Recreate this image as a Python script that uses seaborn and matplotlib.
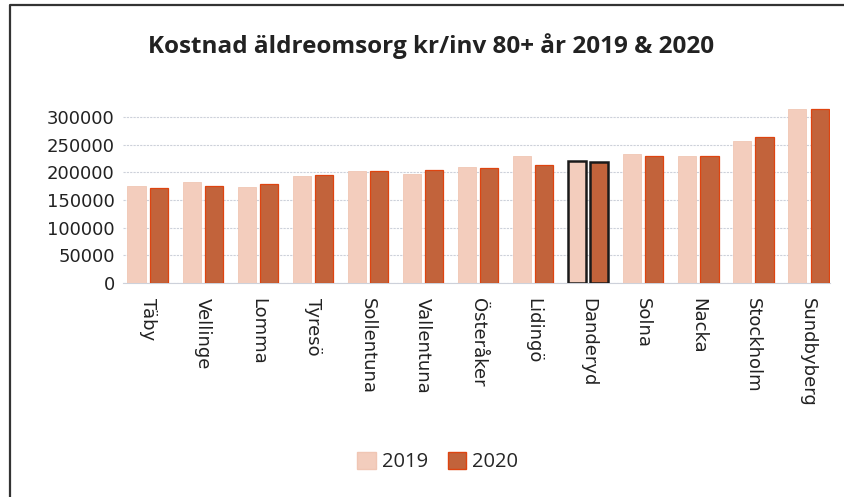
import pandas as pd
import numpy as np
import matplotlib.pyplot as plt
import seaborn as sns
from matplotlib.patches import Rectangle
from matplotlib.lines import Line2D

sns.set_style('white')
plt.rcParams['font.family'] = ['DejaVu Sans']

# Data
kommuner = ['Täby', 'Vellinge', 'Lomma', 'Tyresö', 'Sollentuna', 'Vallentuna', 'Österåker',
            'Lidingö', 'Danderyd', 'Solna', 'Nacka', 'Stockholm', 'Sundbyberg']
kostnad_2019 = [175000, 182000, 173500, 193000, 202500, 197500, 209500,
                229500, 221500, 233500, 229000, 256000, 314000]
kostnad_2020 = [172500, 176000, 179500, 194500, 202000, 205000, 208500,
                213500, 219500, 229500, 230500, 264500, 315500]
years = ['2019', '2020']

df = pd.DataFrame({
    'Kommun': kommuner * 2,
    'År': ['2019'] * len(kommuner) + ['2020'] * len(kommuner),
    'Kostnad': kostnad_2019 + kostnad_2020,
})

face = {'2019': '#F3CDBD', '2020': '#C2633B'}

fig = plt.figure(figsize=(8.45, 4.97), dpi=100)
ax = fig.add_axes([0.1456, 0.4306, 0.837, 0.367])

sns.barplot(data=df, x='Kommun', y='Kostnad', hue='År', hue_order=years,
            palette=face, saturation=1, width=0.82, gap=0.2, ax=ax,
            legend=False, zorder=3)

# edges: red-ish for 2020, black outline for Danderyd
for i, bar in enumerate(ax.patches[:2 * len(kommuner)]):
    yr = i // len(kommuner)
    k = i % len(kommuner)
    if kommuner[k] == 'Danderyd':
        bar.set_edgecolor('#1a1a1a')
        bar.set_linewidth(1.8)
    elif yr == 1:
        bar.set_edgecolor('#DE4410')
        bar.set_linewidth(0.9)
    else:
        bar.set_edgecolor('#F0C6B4')
        bar.set_linewidth(0.6)

ax.set_ylim(0, 330000)
ax.set_xlim(-0.45, len(kommuner) - 0.6)
ax.set_yticks(np.arange(0, 300001, 50000))
ax.set_yticklabels([str(v) for v in range(0, 300001, 50000)], fontsize=13, color='#222222')
ax.set_xticks(range(len(kommuner)))
ax.set_xticklabels(kommuner, rotation=270, fontsize=13, color='#222222', va='top', ha='center')
ax.tick_params(axis='y', length=0, pad=6)
ax.tick_params(axis='x', length=0, pad=11)
ax.set_xlabel('')
ax.set_ylabel('')
ax.grid(axis='y', color='#CDD1DA', linewidth=0.8, linestyle=(0, (2, 1)), zorder=0)
for s in ['top', 'right', 'left']:
    ax.spines[s].set_visible(False)
ax.spines['bottom'].set_color('#CDD1DA')

fig.text(0.51, 0.908, 'Kostnad äldreomsorg kr/inv 80+ år 2019 & 2020',
         ha='center', va='center', fontsize=17.5, fontweight='bold',
         family=['Open Sans', 'DejaVu Sans'], color='#222222')

# legend
handles = [Rectangle((0, 0), 1, 1, facecolor=face['2019'], edgecolor='#F0C6B4'),
           Rectangle((0, 0), 1, 1, facecolor=face['2020'], edgecolor='#DE4410')]
fig.legend(handles, years, loc='center', bbox_to_anchor=(0.518, 0.07), ncol=2,
           frameon=False, handlelength=0.9, handleheight=0.9,
           handletextpad=0.3, columnspacing=1.0,
           prop={'family': ['Open Sans', 'DejaVu Sans'], 'size': 14.5})

# scanned frame: only left and top edges are visible
fig.add_artist(Line2D([0.012, 0.012, 1.0], [0.0, 0.989, 0.989], transform=fig.transFigure,
                      color='#333333', linewidth=1.6))

fig.savefig('out.png', dpi=100)
